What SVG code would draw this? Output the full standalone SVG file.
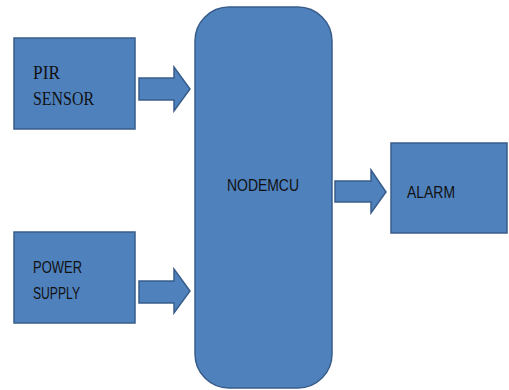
<svg xmlns="http://www.w3.org/2000/svg" width="509" height="390" viewBox="0 0 509 390">
<style>
.box{fill:#4F81BD;stroke:#385D8A;stroke-width:1.5}
.arr{fill:#4F81BD;stroke:#385D8A;stroke-width:1.5;stroke-linejoin:miter}
.serif{font-family:"Liberation Serif","Times New Roman",serif;font-size:18px;fill:#111}
.sans{font-family:"Liberation Sans",Arial,sans-serif;font-size:16px;fill:#111}
</style>
<rect width="509" height="390" fill="#fff"/>
<g id="connectors">
<polygon class="arr" points="139,78 174,78 174,67 190,89 174,111 174,100 139,100"/>
<polygon class="arr" points="139,281 174,281 174,269 190,291 174,313 174,303 139,303"/>
<polygon class="arr" points="335,181 371,181 371,170 386,192 371,213 371,202 335,202"/>
</g>
<g id="pir">
<rect class="box" x="14" y="38" width="121" height="91"/>
<text class="serif" x="33" y="79" textLength="27" lengthAdjust="spacingAndGlyphs">PIR</text>
<text class="serif" x="33" y="105" textLength="61" lengthAdjust="spacingAndGlyphs">SENSOR</text>
</g>
<g id="power">
<rect class="box" x="14" y="232" width="121" height="91"/>
<text class="sans" x="33" y="273" textLength="49" lengthAdjust="spacingAndGlyphs">POWER</text>
<text class="sans" x="33" y="299" textLength="47" lengthAdjust="spacingAndGlyphs">SUPPLY</text>
</g>
<g id="nodemcu">
<rect class="box" x="195" y="7" width="137" height="381" rx="34" ry="34"/>
<text class="sans" x="227" y="191" textLength="72" lengthAdjust="spacingAndGlyphs">NODEMCU</text>
</g>
<g id="alarm">
<rect class="box" x="391" y="143" width="116" height="90"/>
<text class="sans" x="407" y="198" textLength="48" lengthAdjust="spacingAndGlyphs">ALARM</text>
</g>
</svg>
